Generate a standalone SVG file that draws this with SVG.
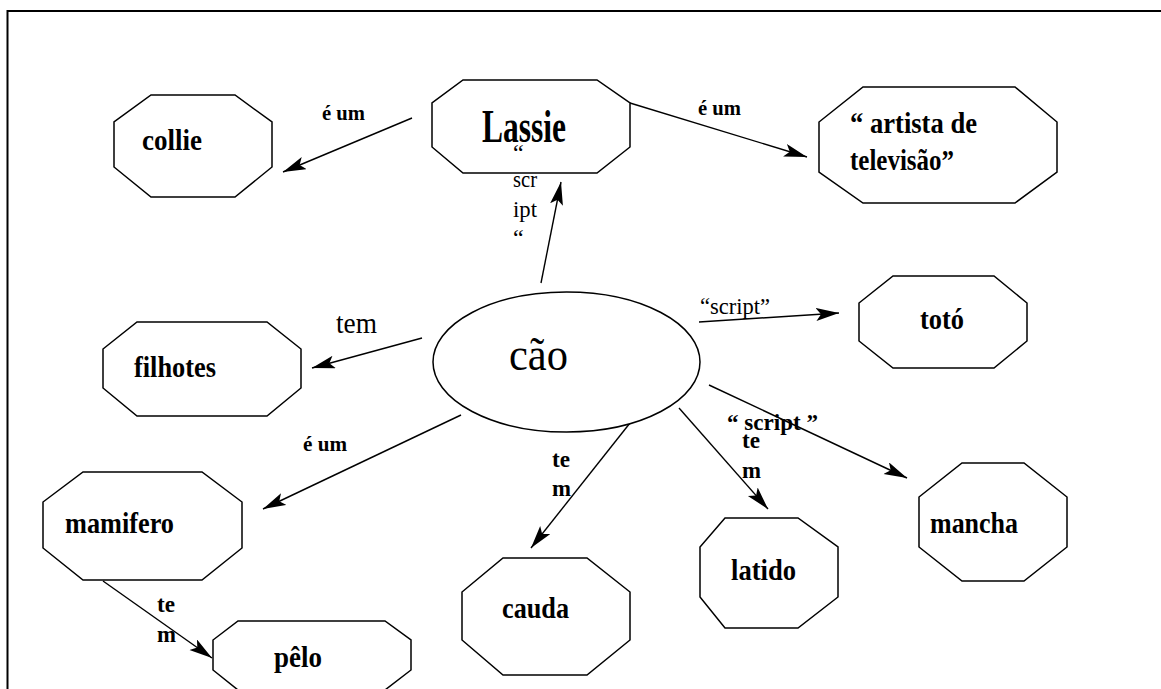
<svg xmlns="http://www.w3.org/2000/svg" width="1161" height="689" viewBox="0 0 1161 689">
<style>
.n{fill:#fff;stroke:#000;stroke-width:1.5}
.t{font-family:"Liberation Serif","Times New Roman",serif;font-weight:bold;font-size:30px;fill:#000}
.e{stroke:#000;stroke-width:1.4;fill:none;marker-end:url(#ah)}
.lb{font-family:"Liberation Serif","Times New Roman",serif;font-weight:bold;font-size:22px;fill:#000}
.lr{font-family:"Liberation Serif","Times New Roman",serif;font-weight:normal;fill:#000}
.tm{font-family:"Liberation Serif","Times New Roman",serif;font-weight:bold;font-size:24px;fill:#000}
</style>
<defs>
<marker id="ah" markerUnits="userSpaceOnUse" markerWidth="26" markerHeight="14" refX="23" refY="6.5" orient="auto">
<path d="M0,0 L23,6.5 L0,13 L5,6.5 Z" fill="#000"/>
</marker>
</defs>
<rect width="1161" height="689" fill="#fff"/>
<rect x="7.5" y="11" width="1165" height="700" fill="none" stroke="#000" stroke-width="2"/>

<g id="connectors">
<line class="e" x1="412" y1="118" x2="283" y2="172"/>
<line class="e" x1="630" y1="103" x2="807" y2="157"/>
<line class="e" x1="541" y1="283" x2="561" y2="182"/>
<line class="e" x1="699" y1="322" x2="839" y2="313"/>
<line class="e" x1="422" y1="338" x2="312" y2="368"/>
<line class="e" x1="461" y1="415" x2="263" y2="509"/>
<line class="e" x1="630" y1="423" x2="531" y2="548"/>
<line class="e" x1="679" y1="408" x2="768" y2="509"/>
<line class="e" x1="709" y1="385" x2="907" y2="478"/>
<line class="e" x1="103" y1="581" x2="212" y2="658"/>
</g>

<g id="cao">
<ellipse class="n" cx="566.5" cy="362" rx="133.5" ry="70"/>
<text class="lr" x="509" y="370" style="font-size:47px" textLength="59" lengthAdjust="spacingAndGlyphs">cão</text>
</g>
<g id="lassie">
<polygon class="n" points="463,80 597,80 630,103 630,147 597,173 463,173 432,147 432,103"/>
<text class="t" x="482" y="142" style="font-size:46px" textLength="84" lengthAdjust="spacingAndGlyphs">Lassie</text>
</g>
<g id="collie">
<polygon class="n" points="151,95 235,95 272,122 272,167 235,197 151,197 114,167 114,122"/>
<text class="t" x="142" y="150" textLength="60" lengthAdjust="spacingAndGlyphs">collie</text>
</g>
<g id="artista">
<polygon class="n" points="863,87 1015,87 1057,122 1057,172 1015,203 863,203 819,172 819,122"/>
<text class="t" x="850" y="133" textLength="127" lengthAdjust="spacingAndGlyphs">“ artista de</text>
<text class="t" x="850" y="170" textLength="104" lengthAdjust="spacingAndGlyphs">televisão”</text>
</g>
<g id="toto">
<polygon class="n" points="893,276 994,276 1027,303 1027,341 994,368 893,368 859,341 859,303"/>
<text class="t" x="920" y="329" textLength="44" lengthAdjust="spacingAndGlyphs">totó</text>
</g>
<g id="filhotes">
<polygon class="n" points="137,322 267,322 301,349 301,388 267,416 137,416 103,388 103,349"/>
<text class="t" x="134" y="377" textLength="82" lengthAdjust="spacingAndGlyphs">filhotes</text>
</g>
<g id="mamifero">
<polygon class="n" points="83,472 202,472 242,502 242,548 202,580 83,580 43,548 43,502"/>
<text class="t" x="65" y="533" textLength="109" lengthAdjust="spacingAndGlyphs">mamifero</text>
</g>
<g id="pelo">
<polygon class="n" points="238,621 385,621 411,640 411,670 385,690 238,690 213,670 213,640"/>
<text class="t" x="274" y="667" textLength="48" lengthAdjust="spacingAndGlyphs">pêlo</text>
</g>
<g id="cauda">
<polygon class="n" points="503,558 587,558 630,592 630,640 587,675 503,675 462,640 462,592"/>
<text class="t" x="502" y="618" textLength="67" lengthAdjust="spacingAndGlyphs">cauda</text>
</g>
<g id="latido">
<polygon class="n" points="725,518 798,518 838,547 838,597 798,628 725,628 700,597 700,547"/>
<text class="t" x="731" y="580" textLength="65" lengthAdjust="spacingAndGlyphs">latido</text>
</g>
<g id="mancha">
<polygon class="n" points="962,463 1024,463 1067,497 1067,547 1024,581 962,581 919,547 919,497"/>
<text class="t" x="930" y="533" textLength="88" lengthAdjust="spacingAndGlyphs">mancha</text>
</g>

<g id="labels">
<text class="lb" x="322" y="120" textLength="43" lengthAdjust="spacingAndGlyphs">é um</text>
<text class="lb" x="698" y="115" textLength="43" lengthAdjust="spacingAndGlyphs">é um</text>
<text class="lb" x="303" y="451" textLength="44" lengthAdjust="spacingAndGlyphs">é um</text>
<text class="lr" x="336" y="333" style="font-size:29px" textLength="41" lengthAdjust="spacingAndGlyphs">tem</text>
<text class="lr" x="700" y="314" style="font-size:24px" textLength="70" lengthAdjust="spacingAndGlyphs">“script”</text>
<text class="tm" x="727" y="430" textLength="91" lengthAdjust="spacingAndGlyphs">“ script ”</text>
<text class="lr" x="513" y="161" style="font-size:24px">“</text>
<text class="lr" x="513" y="187" style="font-size:24px" textLength="24" lengthAdjust="spacingAndGlyphs">scr</text>
<text class="lr" x="513" y="217" style="font-size:24px" textLength="24" lengthAdjust="spacingAndGlyphs">ipt</text>
<text class="lr" x="513" y="246" style="font-size:24px">“</text>
<text class="tm" x="552" y="467" textLength="18" lengthAdjust="spacingAndGlyphs">te</text>
<text class="tm" x="552" y="496" textLength="19" lengthAdjust="spacingAndGlyphs">m</text>
<text class="tm" x="742" y="448" textLength="18" lengthAdjust="spacingAndGlyphs">te</text>
<text class="tm" x="742" y="478" textLength="19" lengthAdjust="spacingAndGlyphs">m</text>
<text class="tm" x="157" y="612" textLength="18" lengthAdjust="spacingAndGlyphs">te</text>
<text class="tm" x="157" y="642" textLength="19" lengthAdjust="spacingAndGlyphs">m</text>
</g>
</svg>
